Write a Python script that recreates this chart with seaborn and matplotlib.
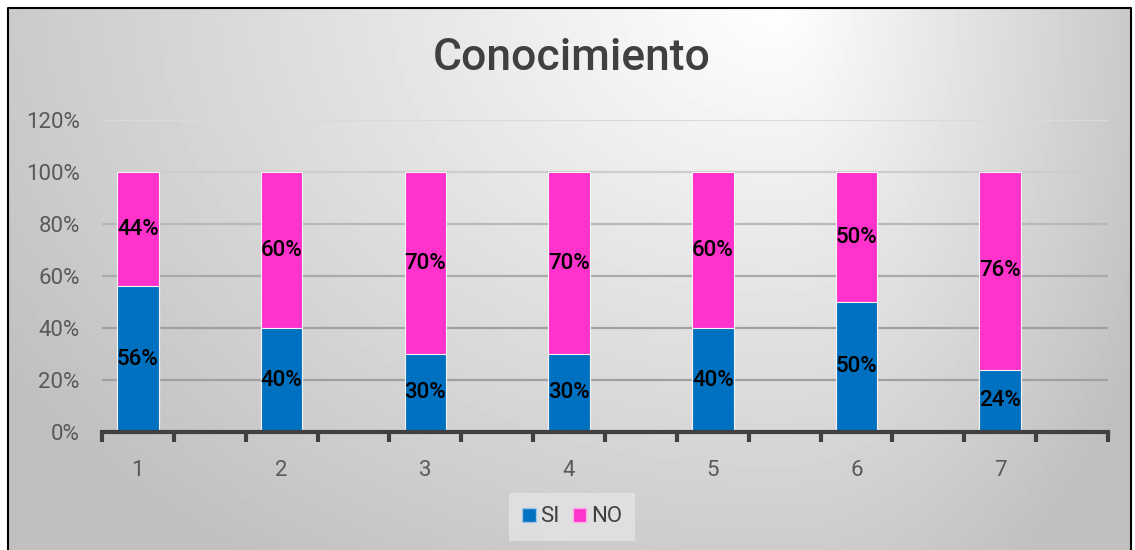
import numpy as np
import pandas as pd
import seaborn as sns
import matplotlib.pyplot as plt
from matplotlib.patches import Patch
from matplotlib.lines import Line2D
import matplotlib.ticker as ticker

# --- data ---
preguntas = ['1', '2', '3', '4', '5', '6', '7']
si = [0.56, 0.40, 0.30, 0.30, 0.40, 0.50, 0.24]
no = [0.44, 0.60, 0.70, 0.70, 0.60, 0.50, 0.76]
y_ticks = [0, 0.2, 0.4, 0.6, 0.8, 1.0, 1.2]

AZUL = '#0070C0'
ROSA = '#FF33CC'

# every category sits on its own slot with an empty slot after it
pos = np.arange(len(preguntas)) * 2
df = pd.DataFrame({'pos': pos, 'SI': si, 'NO': no})
df['total'] = df['SI'] + df['NO']

sns.set_theme(style='white')
plt.rcParams['font.family'] = ['Roboto', 'DejaVu Sans']

W, H = 1135, 550
fig = plt.figure(figsize=(W / 100, H / 100), dpi=100, facecolor='white')

# background gradient inside the chart frame
fx0, fx1, fy_top = 8, 1131, 8
bg = fig.add_axes([fx0 / W, 0, (fx1 - fx0) / W, 1 - fy_top / H], zorder=-5)
xx, yy = np.meshgrid(np.arange(fx0, fx1), np.arange(fy_top, H))
cx, cy = 780, 0
sx = np.where(xx < cx, 800.0, 360.0)
r = np.sqrt(((xx - cx) / sx) ** 2 + ((yy - cy) / 600.0) ** 2)
val = np.clip(255 - 55 * r, 192, 255) / 255.0
bg.imshow(val, cmap='gray', vmin=0, vmax=1, aspect='auto', extent=[0, 1, 0, 1])
bg.axis('off')

# black frame: left, top and right sides
frame_x = [fx0 / W, fx0 / W, fx1 / W, fx1 / W]
frame_y = [0, 1 - fy_top / H, 1 - fy_top / H, 0]
fig.add_artist(Line2D(frame_x, frame_y, transform=fig.transFigure, color='black',
                      linewidth=1.5, zorder=10))

ax = fig.add_axes([102 / W, (550 - 432) / H, (1108 - 102) / W, (432 - 120) / H])
ax.set_facecolor('none')

# stacked bars: total (NO on top) first, then SI over it
sns.barplot(data=df, x='pos', y='total', native_scale=True, width=0.29,
            color=ROSA, saturation=1, edgecolor='#f4f4f4', linewidth=0.8, ax=ax, zorder=3)
sns.barplot(data=df, x='pos', y='SI', native_scale=True, width=0.29,
            color=AZUL, saturation=1, edgecolor='#f4f4f4', linewidth=0.8, ax=ax, zorder=4)

# data labels centred in each segment
for _, row in df.iterrows():
    ax.text(row['pos'], row['SI'] / 2, f"{row['SI']:.0%}", ha='center', va='center',
            fontsize=16, fontweight='medium', color='black', zorder=6)
    ax.text(row['pos'], row['SI'] + row['NO'] / 2, f"{row['NO']:.0%}", ha='center',
            va='center', fontsize=16, fontweight='medium', color='black', zorder=6)

ax.set_xlim(-0.5, pos[-1] + 1.5)
ax.set_ylim(0, 1.2)
ax.set_yticks(y_ticks)
ax.yaxis.set_major_formatter(ticker.PercentFormatter(1.0, decimals=0))
ax.set_xticks(pos)
ax.set_xticklabels(preguntas)
ax.set_xticks(np.arange(-0.5, pos[-1] + 2, 1), minor=True)
ax.set_xlabel('')
ax.set_ylabel('')

ax.tick_params(axis='y', length=0, pad=16, labelsize=16, labelcolor='#595959')
ax.tick_params(axis='x', which='major', length=0, pad=20, labelsize=16, labelcolor='#595959')
ax.tick_params(axis='x', which='minor', bottom=True, length=7, width=3,
               color='#404040', direction='out')

for s in ['top', 'right', 'left']:
    ax.spines[s].set_visible(False)
ax.spines['bottom'].set_color('#404040')
ax.spines['bottom'].set_linewidth(3)
ax.spines['bottom'].set_zorder(5)

# horizontal gridlines, lighter toward the bright top
grid_cols = ['#a0a0a0', '#a0a0a0', '#aaaaaa', '#b8b8b8', '#cdcdcd', '#dadada']
for yv, c in zip(y_ticks[1:], grid_cols):
    ax.axhline(yv, color=c, linewidth=1.6, zorder=1)

fig.text(572 / W, 1 - 58 / H, 'Conocimiento', ha='center', va='center',
         fontsize=32, fontweight='medium', color='#404040')

handles = [Patch(facecolor=AZUL, edgecolor='#9dc3e6', label='SI'),
           Patch(facecolor=ROSA, edgecolor='#ffa6e6', label='NO')]
leg = fig.legend(handles=handles, loc='center', bbox_to_anchor=(572 / W, 1 - 517 / H),
                 ncol=2, frameon=True, fontsize=16, handlelength=0.6, handleheight=0.6,
                 handletextpad=0.2, columnspacing=0.6, borderpad=0.6, fancybox=False)
leg.get_frame().set_facecolor('#e4e4e4')
leg.get_frame().set_edgecolor('none')
for t in leg.get_texts():
    t.set_color('#404040')

fig.savefig('out.png', dpi=100)
